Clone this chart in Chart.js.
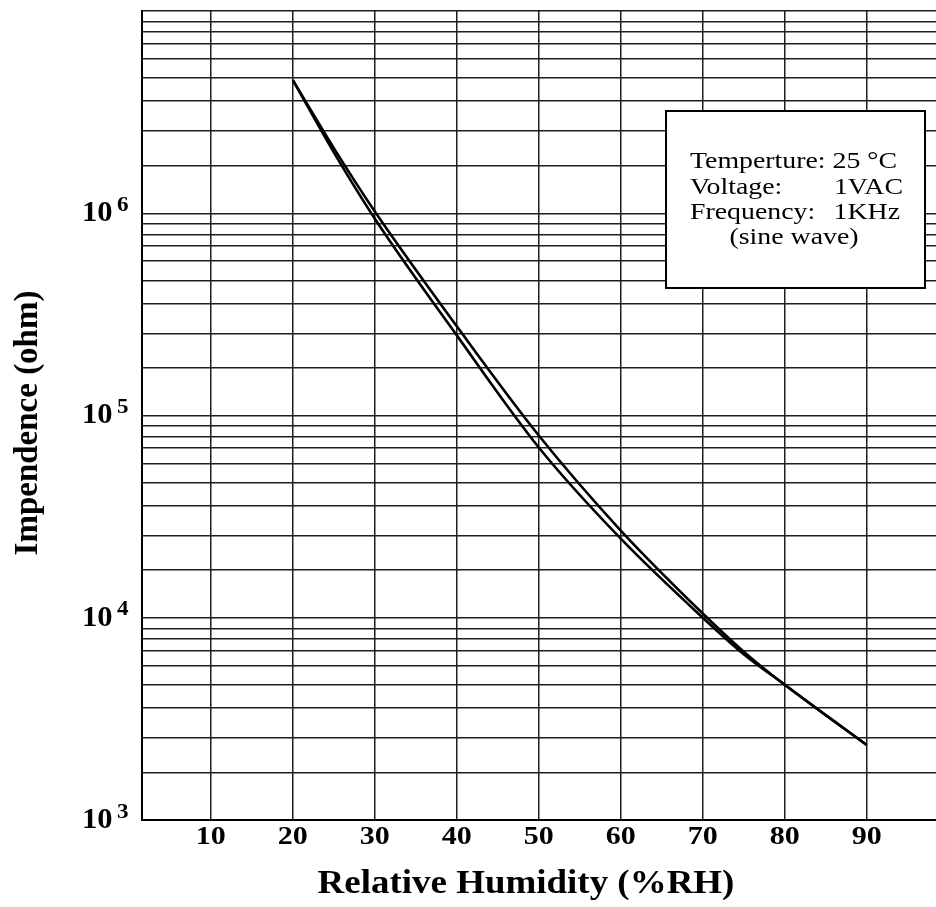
<!DOCTYPE html>
<html>
<head>
<meta charset="utf-8">
<script src="https://cdn.jsdelivr.net/npm/chart.js@4.4.1/dist/chart.umd.min.js"></script>
<style>
  html, body { margin: 0; padding: 0; background: #fff; }
  #wrap { width: 936px; height: 907px; position: relative; }
</style>
</head>
<body>
<div id="wrap"><canvas id="c"></canvas></div>
<script>
// ---- data ----
const humidity       = [20, 25, 30, 40, 50, 60, 70, 75, 80, 85, 90];
const impedanceUpper = [4.55e6, 2.1e6, 1.02e6, 2.76e5, 7.96e4, 2.70e4, 1.05e4, 6.8e3, 4.66e3, 3.3e3, 2.35e3];
const impedanceLower = [4.55e6, 2.0e6, 0.94e6, 2.49e5, 6.95e4, 2.46e4, 1.0e4, 6.6e3, 4.66e3, 3.3e3, 2.35e3];

const xTickValues   = [10, 20, 30, 40, 50, 60, 70, 80, 90];
const yTickValues   = [1e3, 1e4, 1e5, 1e6];
const gridDecades   = [1e3, 1e4, 1e5, 1e6];
const gridMantissas = [1, 1.72, 2.55, 3.58, 4.66, 5.8, 6.9, 7.87, 8.85];
const yTopValue     = 1e7;

const xTitle = 'Relative Humidity (%RH)';
const yTitle = 'Impendence (ohm)';
const noteLines = [
  ['Temperture: 25 °C', ''],
  ['Voltage:', '1VAC'],
  ['Frequency:', '1KHz'],
  ['(sine wave)', '']
];

// ---- drawing ----
const SERIF = '"Liberation Serif", "Times New Roman", Times, serif';

const gridValues = [];
gridDecades.forEach(d => gridMantissas.forEach(m => gridValues.push(d * m)));
gridValues.push(yTopValue);

function stretchText(ctx, text, x, y, font, sx, align, baseline) {
  ctx.save();
  ctx.font = font;
  ctx.textAlign = align;
  ctx.textBaseline = baseline;
  ctx.fillStyle = '#000';
  ctx.translate(x, y);
  ctx.scale(sx, 1);
  ctx.fillText(text, 0, 0);
  ctx.restore();
}

const textPlugin = {
  id: 'textPlugin',
  afterDraw(chart) {
    const ctx = chart.ctx;
    const xs = chart.scales.x, ys = chart.scales.y;

    // x tick labels
    xTickValues.forEach(v => {
      stretchText(ctx, String(v), xs.getPixelForValue(v), 838, 'bold 25px ' + SERIF, 1.2, 'center', 'middle');
    });

    // y tick labels (10 with superscript exponent)
    yTickValues.forEach(v => {
      const py = ys.getPixelForValue(v);
      const exp = String(Math.round(Math.log10(v)));
      stretchText(ctx, '10', 82, py, 'bold 30px ' + SERIF, 1.02, 'left', 'middle');
      stretchText(ctx, exp, 117, py - 8, 'bold 22px ' + SERIF, 1.05, 'left', 'middle');
    });

    // axis titles
    ctx.save();
    ctx.translate(28, 423);
    ctx.rotate(-Math.PI / 2);
    ctx.font = 'bold 33px ' + SERIF;
    ctx.textAlign = 'center';
    ctx.textBaseline = 'middle';
    ctx.fillStyle = '#000';
    ctx.fillText(yTitle, 0, 0);
    ctx.restore();

    stretchText(ctx, xTitle, 526, 884, 'bold 33px ' + SERIF, 1.12, 'center', 'middle');

    // annotation box
    ctx.save();
    ctx.fillStyle = '#fff';
    ctx.fillRect(666, 111, 259, 177);
    ctx.strokeStyle = '#000';
    ctx.lineWidth = 2;
    ctx.strokeRect(666, 111, 259, 177);
    ctx.restore();

    const f = '23px ' + SERIF;
    stretchText(ctx, noteLines[0][0], 690, 168, f, 1.21, 'left', 'alphabetic');
    stretchText(ctx, noteLines[1][0], 690, 194, f, 1.21, 'left', 'alphabetic');
    stretchText(ctx, noteLines[1][1], 903, 194, f, 1.21, 'right', 'alphabetic');
    stretchText(ctx, noteLines[2][0], 690, 219, f, 1.21, 'left', 'alphabetic');
    stretchText(ctx, noteLines[2][1], 900, 219, f, 1.21, 'right', 'alphabetic');
    stretchText(ctx, noteLines[3][0], 794, 244, f, 1.21, 'center', 'alphabetic');
  }
};

const gridStyle = { color: '#1e1e1e', lineWidth: 1.5, drawTicks: false };
const borderStyle = { display: true, color: '#000', width: 2 };

new Chart(document.getElementById('c'), {
  type: 'line',
  data: {
    datasets: [
      {
        data: humidity.map((x, i) => ({ x: x, y: impedanceUpper[i] })),
        borderColor: '#000', borderWidth: 2.6, pointRadius: 0,
        cubicInterpolationMode: 'monotone', fill: false
      },
      {
        data: humidity.map((x, i) => ({ x: x, y: impedanceLower[i] })),
        borderColor: '#000', borderWidth: 2.6, pointRadius: 0,
        cubicInterpolationMode: 'monotone', fill: false
      }
    ]
  },
  options: {
    responsive: true,
    maintainAspectRatio: false,
    animation: false,
    devicePixelRatio: 1,
    layout: { padding: { left: 142, top: 11, right: 0, bottom: 87 } },
    plugins: { legend: { display: false }, tooltip: { enabled: false } },
    scales: {
      x: {
        type: 'linear', min: 1.6, max: 98.45,
        afterBuildTicks: s => { s.ticks = xTickValues.map(v => ({ value: v })); },
        ticks: { display: false },
        grid: gridStyle,
        border: borderStyle
      },
      y: {
        type: 'logarithmic', min: 1e3, max: yTopValue,
        afterBuildTicks: s => { s.ticks = gridValues.map(v => ({ value: v })); },
        ticks: { display: false },
        grid: gridStyle,
        border: borderStyle
      }
    }
  },
  plugins: [textPlugin]
});
</script>
</body>
</html>
